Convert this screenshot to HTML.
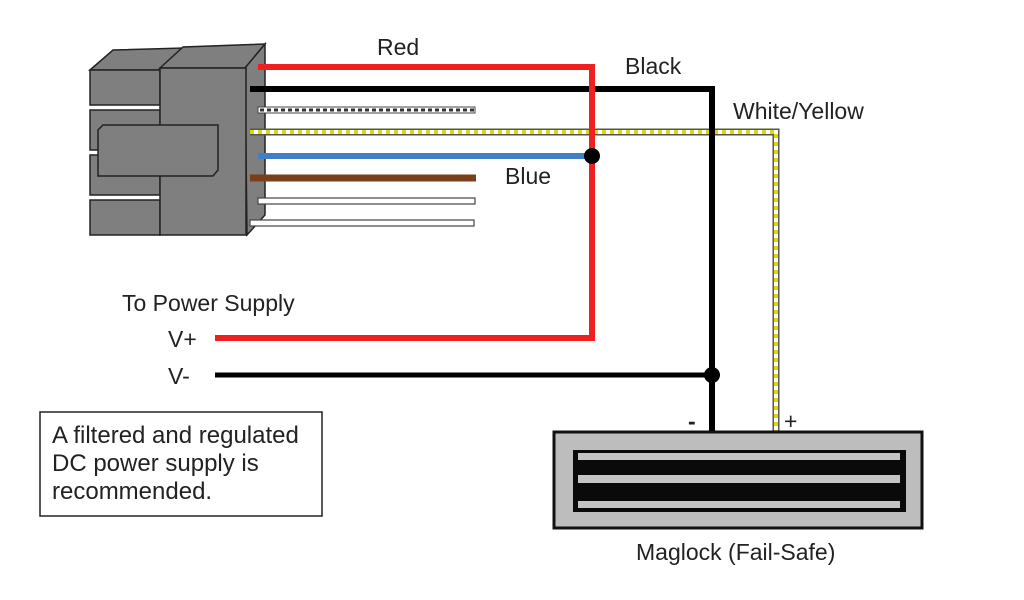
<!DOCTYPE html>
<html><head><meta charset="utf-8"><style>
html,body{margin:0;padding:0;background:#fff;}
svg{display:block;}
text{font-family:"Liberation Sans",Arial,sans-serif;fill:#222;}
</style></head><body>
<svg width="1024" height="600" viewBox="0 0 1024 600" xmlns="http://www.w3.org/2000/svg">
<!-- connector -->
<g stroke="#222" stroke-width="1.5" fill="#7f7f7f">
<polygon points="90,70 113,50 183,48 160,70"/>
<polygon points="160,68 183,47 265,44 245,68"/>
<polygon points="245,68 265,44 265,215 247,235"/>
<rect x="90" y="70" width="70" height="35"/>
<rect x="90" y="110" width="70" height="40"/>
<rect x="90" y="155" width="70" height="40"/>
<rect x="90" y="200" width="70" height="35"/>
<rect x="160" y="68" width="86" height="167"/>
<polygon points="98,130 103,125 218,125 218,170 213,176 98,176"/>
</g>
<!-- stub wires -->
<rect x="258" y="107" width="217" height="6" fill="#fff" stroke="#444" stroke-width="1"/>
<line x1="260" y1="110" x2="474" y2="110" stroke="#333" stroke-width="3" stroke-dasharray="4,3"/>
<line x1="250" y1="178" x2="476" y2="178" stroke="#7a3f1a" stroke-width="7"/>
<rect x="258" y="198" width="217" height="6" fill="#fff" stroke="#444" stroke-width="1.2"/>
<rect x="250" y="220" width="224" height="6" fill="#fff" stroke="#444" stroke-width="1.2"/>
<!-- yellow/white -->
<polyline points="250,132 776,132 776,431" fill="none" stroke="#555" stroke-width="7"/>
<polyline points="250,132 776,132 776,431" fill="none" stroke="#fff" stroke-width="4"/>
<polyline points="250,132 776,132 776,431" fill="none" stroke="#e0d800" stroke-width="4" stroke-dasharray="4,4"/>
<!-- black -->
<polyline points="250,89 712,89 712,431" fill="none" stroke="#000" stroke-width="6"/>
<line x1="215" y1="375" x2="712" y2="375" stroke="#000" stroke-width="5"/>
<circle cx="712" cy="375" r="8" fill="#000"/>
<!-- blue -->
<line x1="258" y1="156" x2="592" y2="156" stroke="#3f7fc8" stroke-width="6"/>
<!-- red -->
<polyline points="258,67 592,67 592,338 215,338" fill="none" stroke="#ee2020" stroke-width="6"/>
<circle cx="592" cy="156" r="8" fill="#000"/>
<!-- maglock -->
<rect x="554" y="432" width="368" height="96" fill="#bdbdbd" stroke="#111" stroke-width="3"/>
<rect x="573" y="450" width="333" height="62" fill="#0a0a0a"/>
<rect x="578" y="453" width="322" height="7" fill="#c4c4c4"/>
<rect x="578" y="475" width="322" height="8" fill="#c4c4c4"/>
<rect x="578" y="501" width="322" height="7" fill="#c4c4c4"/>
<!-- labels -->
<text x="377" y="55" font-size="23">Red</text>
<text x="625" y="74" font-size="23">Black</text>
<text x="733" y="119" font-size="23">White/Yellow</text>
<text x="505" y="184" font-size="23">Blue</text>
<text x="122" y="311" font-size="23">To Power Supply</text>
<text x="168" y="347" font-size="23">V+</text>
<text x="168" y="384" font-size="23">V-</text>
<text x="688" y="429" font-size="23" font-weight="bold">-</text>
<text x="784" y="429" font-size="23">+</text>
<text x="636" y="560" font-size="23">Maglock (Fail-Safe)</text>
<rect x="40" y="412" width="282" height="104" fill="#fff" stroke="#222" stroke-width="1.5"/>
<text x="52" y="443" font-size="24">A filtered and regulated</text>
<text x="52" y="471" font-size="24">DC power supply is</text>
<text x="52" y="499" font-size="24">recommended.</text>
</svg>
</body></html>
